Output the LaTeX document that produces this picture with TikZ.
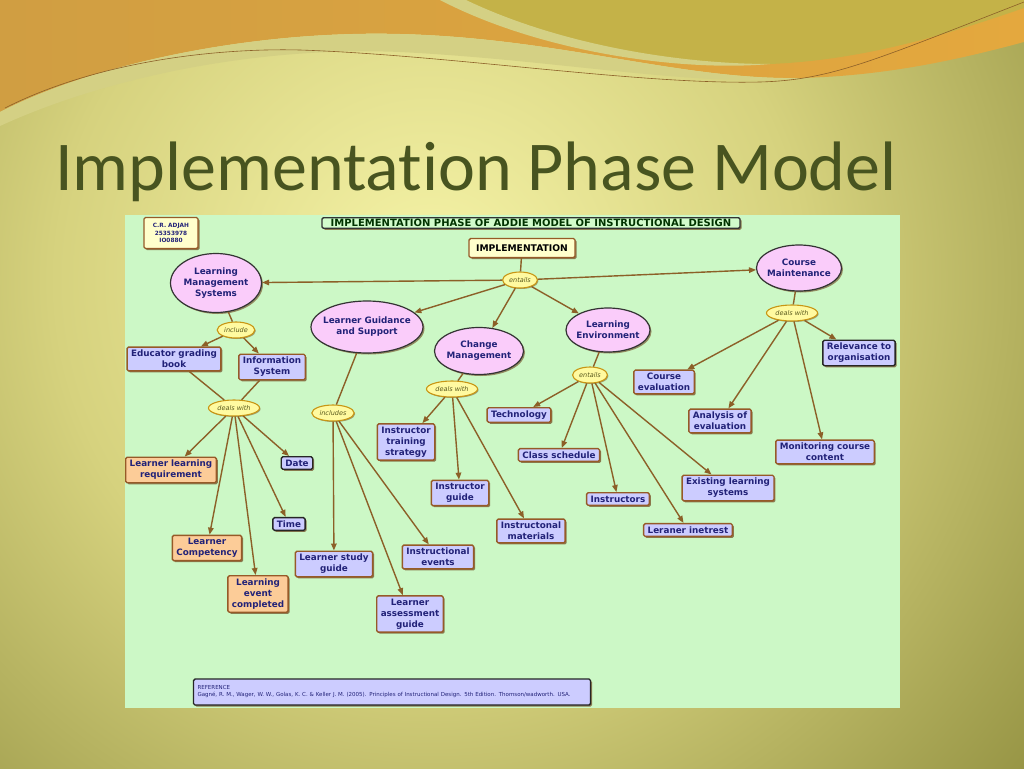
\documentclass[tikz,border=0pt]{standalone}
\usepackage{fontspec}
\setmainfont{DejaVu Sans}[BoldFont={DejaVu Sans Bold}, ItalicFont={DejaVu Sans Oblique}]
\newfontfamily\titlefont{Carlito}[Ligatures=NoCommon]
\usetikzlibrary{arrows.meta, positioning, shapes.geometric, shadows}

\definecolor{bglight}{RGB}{246,244,168}
\definecolor{bgmid}{RGB}{214,210,126}
\definecolor{bgdark}{RGB}{150,148,68}
\definecolor{orangeleft}{RGB}{208,158,66}
\definecolor{orangeright}{RGB}{228,168,62}
\definecolor{swooshgold}{RGB}{196,178,72}
\definecolor{swooshpale}{RGB}{212,208,132}
\definecolor{titlegreen}{RGB}{72,84,32}
\definecolor{panelgreen}{RGB}{204,248,198}
\definecolor{headgreen}{RGB}{210,252,204}
\definecolor{conceptpink}{RGB}{250,204,250}
\definecolor{itemblue}{RGB}{204,204,255}
\definecolor{itempeach}{RGB}{252,204,152}
\definecolor{paleyellow}{RGB}{255,255,204}
\definecolor{linkyellow}{RGB}{255,250,160}
\definecolor{linkgold}{RGB}{200,150,20}
\definecolor{boxbrown}{RGB}{150,90,40}
\definecolor{shadowbrown}{RGB}{110,70,30}
\definecolor{linebrown}{RGB}{140,96,40}
\definecolor{textnavy}{RGB}{34,34,120}
\definecolor{linktext}{RGB}{90,90,30}

\pgfdeclareradialshading{slideglow}{\pgfpointorigin}{color(0bp)=(bglight); color(12bp)=(bgmid); color(25bp)=(bgdark); color(50bp)=(bgdark)}

\newcommand{\itemfont}{\fontsize{8.8}{11}\selectfont\bfseries}
\newcommand{\linkfont}{\fontsize{6.5}{7}\selectfont\itshape}

\begin{document}
\begin{tikzpicture}[x=1pt, y=-1pt,
    concept/.style={ellipse, draw=black!80, line width=1.2pt, fill=conceptpink, text=textnavy, font=\itemfont, align=center, inner xsep=-8pt, inner ysep=-4pt, drop shadow={shadow xshift=1.5pt, shadow yshift=-1.5pt, fill=shadowbrown, opacity=0.6}},
    linkword/.style={ellipse, draw=linkgold, line width=1.1pt, fill=linkyellow, text=linktext, font=\linkfont, inner xsep=1.5pt, inner ysep=0pt, minimum height=16pt, drop shadow={shadow xshift=1pt, shadow yshift=-1pt, fill=shadowbrown, opacity=0.5}},
    itembox/.style={rectangle, rounded corners=1.5pt, draw=boxbrown, line width=1.4pt, fill=itemblue, text=textnavy, font=\itemfont, align=center, inner xsep=4pt, inner ysep=3pt, drop shadow={shadow xshift=1.5pt, shadow yshift=-1.5pt, fill=shadowbrown, opacity=0.7}},
    peachbox/.style={itembox, fill=itempeach},
    darkbox/.style={itembox, draw=black!85},
    arrow/.style={-{Triangle[length=7pt, width=5.5pt]}, line width=1.4pt, draw=linebrown},
    joinline/.style={line width=1.4pt, draw=linebrown}
]
\useasboundingbox (0,0) rectangle (1024,768);

% Slide background
\begin{scope}
  \clip (0,0) rectangle (1024,768);
  \shade[shading=slideglow] (430,280) circle[radius=780pt];
  \shade[left color=orangeleft, right color=orangeright] (0,0) -- (1024,0) -- (1024,42) .. controls (950,62) and (880,76) .. (800,78) .. controls (680,80) and (560,38) .. (400,34) .. controls (250,30) and (90,65) .. (0,112) -- cycle;
  \fill[swooshgold] (462,0) .. controls (560,50) and (680,68) .. (770,64) .. controls (870,60) and (960,30) .. (1024,8) -- (1024,0) -- cycle;
  \fill[swooshpale] (440,0) .. controls (540,52) and (680,72) .. (770,64) .. controls (680,64) and (560,45) .. (466,0) -- cycle;
  \fill[swooshpale] (0,112) .. controls (90,65) and (250,30) .. (400,34) .. controls (560,38) and (680,80) .. (800,78) .. controls (700,88) and (560,60) .. (400,52) .. controls (250,46) and (100,80) .. (0,126) -- cycle;
  \draw[linebrown, line width=0.6pt] (5,108) .. controls (100,60) and (220,48) .. (300,50) .. controls (450,55) and (640,85) .. (760,82) .. controls (830,80) and (870,62) .. (1024,2);
\end{scope}

% Title
\node[font=\titlefont\fontsize{70}{84}\selectfont, text=titlegreen, anchor=base west, inner sep=0pt] (title) at (55,190) {Implementation Phase Model};

% Panel
\fill[panelgreen] (125,215) rectangle (900,708);

% Header
\node[itembox, fill=headgreen, draw=black!80, text=black!80!green, font=\fontsize{10}{12}\selectfont\bfseries, inner ysep=1.5pt, minimum width=418pt] (head) at (531,223) {IMPLEMENTATION PHASE OF ADDIE MODEL OF INSTRUCTIONAL DESIGN};
\node[itembox, fill=paleyellow, font=\fontsize{5.8}{7.2}\selectfont\bfseries, minimum width=54pt, minimum height=31pt, inner ysep=1pt] (author) at (171,233) {C.R. ADJAH\\25353978\\IO0880};
\node[itembox, fill=paleyellow, text=black, font=\fontsize{9.2}{11}\selectfont\bfseries, minimum width=106pt, minimum height=19pt, inner ysep=1pt] (impl) at (522,248) {IMPLEMENTATION};
\node[linkword] (entails) at (520,280) {entails};

% Main concepts
\node[concept, minimum width=91pt, minimum height=59pt] (lms) at (216,283) {Learning\\Management\\Systems};
\node[concept, minimum width=112pt, minimum height=52pt] (guide) at (367,327) {Learner Guidance\\and Support};
\node[concept, minimum width=89pt, minimum height=47pt] (change) at (479,351) {Change\\Management};
\node[concept, minimum width=84pt, minimum height=44pt] (env) at (608,330) {Learning\\Environment};
\node[concept, minimum width=85pt, minimum height=46pt] (maint) at (799,268) {Course\\Maintenance};

% Learning Management Systems
\node[linkword] (include) at (236,330) {include};
\node[itembox] (egb) at (174,359) {Educator grading\\book};
\node[itembox] (info) at (272,367) {Information\\System};
\node[linkword] (dealsA) at (234,408) {deals with};
\node[peachbox] (llr) at (171,470) {Learner learning\\requirement};
\node[darkbox] (date) at (297,463) {Date};
\node[darkbox] (time) at (289,524) {Time};
\node[peachbox] (comp) at (207,548) {Learner\\Competency};
\node[peachbox] (lec) at (258,594) {Learning\\event\\completed};

% Learner Guidance and Support
\node[linkword] (includes) at (333,413) {includes};
\node[itembox] (lsg) at (334,564) {Learner study\\guide};
\node[itembox] (ie) at (438,557) {Instructional\\events};
\node[itembox] (lag) at (410,614) {Learner\\assessment\\guide};

% Change Management
\node[linkword] (dealsB) at (452,389) {deals with};
\node[itembox] (its) at (406,442) {Instructor\\training\\strategy};
\node[itembox] (ig) at (460,493) {Instructor\\guide};
\node[itembox] (im) at (531,531) {Instructonal\\materials};

% Learning Environment
\node[linkword] (entailsB) at (590,375) {entails};
\node[itembox] (tech) at (519,415) {Technology};
\node[itembox] (cs) at (559,455) {Class schedule};
\node[itembox] (instr) at (618,499) {Instructors};
\node[itembox] (li) at (688,530) {Leraner inetrest};
\node[itembox] (els) at (728,488) {Existing learning\\systems};

% Course Maintenance
\node[linkword] (dealsC) at (792,313) {deals with};
\node[itembox] (ce) at (664,382) {Course\\evaluation};
\node[itembox] (ae) at (720,421) {Analysis of\\evaluation};
\node[itembox] (mcc) at (825,452) {Monitoring course\\content};
\node[darkbox] (rto) at (859,353) {Relevance to\\organisation};

% Reference
\node[itembox, draw=black!85, font=\fontsize{5.5}{7}\selectfont, align=left, text width=389pt, minimum height=26pt] (ref) at (392,692) {REFERENCE\\Gagné, R. M., Wager, W. W., Golas, K. C. \& Keller J. M. (2005). Principles of Instructional Design. 5th Edition. Thomson/wadworth. USA.};

% Connectors
\draw[joinline] (impl) -- (entails);
\draw[arrow] (entails) -- (lms);
\draw[arrow] (entails) -- (guide);
\draw[arrow] (entails) -- (change);
\draw[arrow] (entails) -- (env);
\draw[arrow] (entails) -- (maint);

\draw[joinline] (lms) -- (include);
\draw[arrow] (include) -- (egb);
\draw[arrow] (include) -- (info);
\draw[joinline] (egb) -- (dealsA);
\draw[joinline] (info) -- (dealsA);
\draw[arrow] (dealsA) -- (llr);
\draw[arrow] (dealsA) -- (comp);
\draw[arrow] (dealsA) -- (lec);
\draw[arrow] (dealsA) -- (time);
\draw[arrow] (dealsA) -- (date);

\draw[joinline] (guide) -- (includes);
\draw[arrow] (includes) -- (lsg);
\draw[arrow] (includes) -- (lag);
\draw[arrow] (includes) -- (ie);

\draw[joinline] (change) -- (dealsB);
\draw[arrow] (dealsB) -- (its);
\draw[arrow] (dealsB) -- (ig);
\draw[arrow] (dealsB) -- (im);

\draw[joinline] (env) -- (entailsB);
\draw[arrow] (entailsB) -- (tech);
\draw[arrow] (entailsB) -- (cs);
\draw[arrow] (entailsB) -- (instr);
\draw[arrow] (entailsB) -- (li);
\draw[arrow] (entailsB) -- (els);

\draw[joinline] (maint) -- (dealsC);
\draw[arrow] (dealsC) -- (ce);
\draw[arrow] (dealsC) -- (ae);
\draw[arrow] (dealsC) -- (mcc);
\draw[arrow] (dealsC) -- (rto);

\end{tikzpicture}
\end{document}
